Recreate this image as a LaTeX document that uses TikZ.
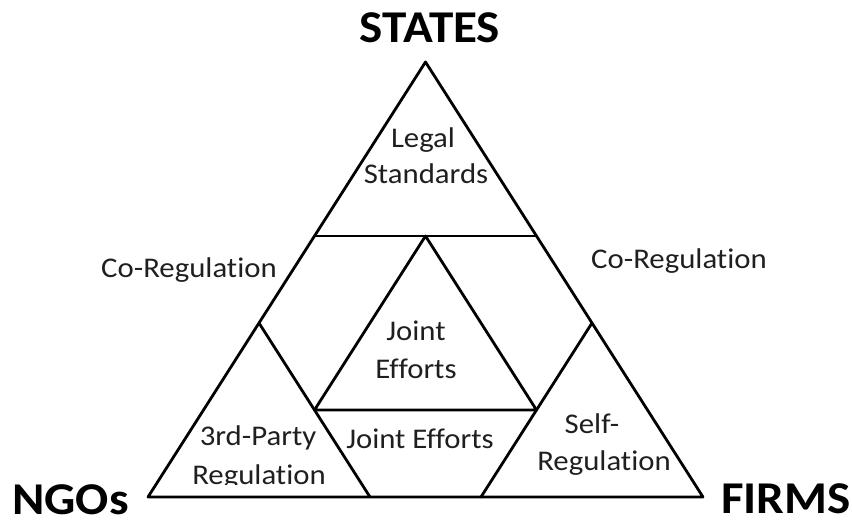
\documentclass[tikz,border=0pt]{standalone}
\usepackage{fontspec}
\setmainfont{Carlito}[FakeStretch=1.08, Ligatures=NoCommon]
\begin{document}
\begin{tikzpicture}[x=1pt,y=-1pt,
  edge/.style={line width=2.8pt, line cap=round, line join=round, black},
  lbl/.style={inner sep=0pt, anchor=base, text=black!88, font=\fontsize{28.5}{34}\selectfont},
  corner/.style={inner sep=0pt, anchor=base, text=black, font=\bfseries\fontsize{45.5}{54}\selectfont}]
\useasboundingbox (0,0) rectangle (852,524);
% geometry
\coordinate (A) at (425.5,62);
\coordinate (B) at (148,497);
\coordinate (C) at (703,497);
\coordinate (TL) at (314.5,236);
\coordinate (TR) at (536.5,236);
\coordinate (IA) at (425.5,236);
\coordinate (IL) at (314.5,410);
\coordinate (IR) at (536.5,410);
\coordinate (LA) at (259,323);
\coordinate (LB) at (370,497);
\coordinate (RA) at (592,323);
\coordinate (RB) at (481,497);
% outer triangle
\draw[edge] (A) -- (B) -- (C) -- cycle;
% top band
\draw[edge] (TL) -- (TR);
% inner triangle
\draw[edge] (IA) -- (IL) -- (IR) -- cycle;
% corner triangles
\draw[edge] (LA) -- (LB);
\draw[edge] (RA) -- (RB);
% labels
\node[corner] (states) at (430,43) {STATES};
\node[corner, anchor=base west] (ngos) at (12,514) {NGOs};
\node[corner, anchor=base west] (firms) at (721,513) {FIRMS};
\node[lbl] (legal) at (423,148) {Legal};
\node[lbl] (stand) at (426,184) {Standards};
\node[lbl] (coL) at (189,277) {Co-Regulation};
\node[lbl] (coR) at (679,268) {Co-Regulation};
\node[lbl] (joint) at (416,340) {Joint};
\node[lbl] (effort) at (416,378) {Efforts};
\node[lbl] (third) at (258,445) {3rd-Party};
\begin{scope}
\clip (150,440) rectangle (400,484);
\node[lbl] (regL) at (259,484) {Regulation};
\end{scope}
\node[lbl] (jointb) at (420,448) {Joint Efforts};
\node[lbl] (self) at (592,433) {Self-};
\node[lbl] (regR) at (604,470) {Regulation};
\end{tikzpicture}
\end{document}
